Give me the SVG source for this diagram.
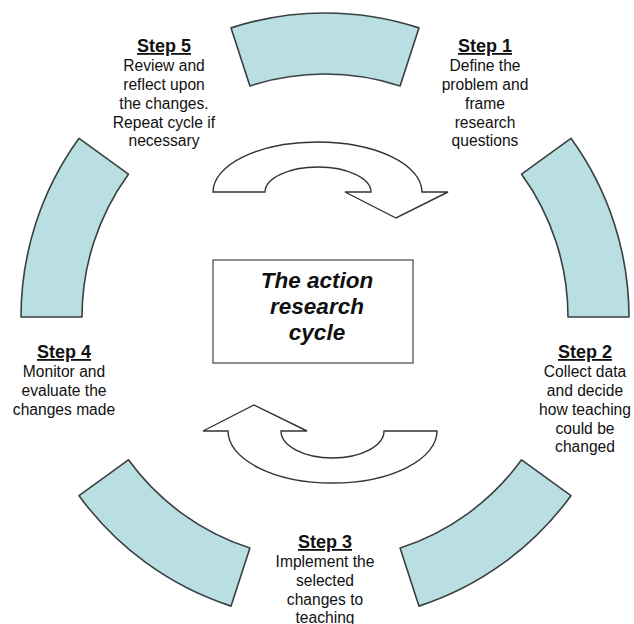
<svg xmlns="http://www.w3.org/2000/svg" width="634" height="624" viewBox="0 0 634 624">
<style>
.seg{fill:#b9dfe3;stroke:#3a3f40;stroke-width:1.6;stroke-linejoin:round}
.arr{fill:#ffffff;stroke:#333;stroke-width:1.4;stroke-linejoin:miter}
.box{fill:#ffffff;stroke:#444;stroke-width:1.2}
.h{font-family:"Liberation Sans",Arial,sans-serif;font-size:18px;font-weight:bold;text-decoration:underline;fill:#111;text-anchor:middle}
.b{font-family:"Liberation Sans",Arial,sans-serif;font-size:15.6px;fill:#111;text-anchor:middle}
.c{font-family:"Liberation Sans",Arial,sans-serif;font-size:22.5px;font-weight:bold;font-style:italic;fill:#111;text-anchor:middle}
</style>
<rect width="634" height="624" fill="#ffffff"/>
<g id="ring">
<path id="seg-top" class="seg" d="M231.06,27.88 A304,304 0 0 1 418.94,27.88 L400.09,85.89 A243,243 0 0 0 249.91,85.89 Z"/>
<path id="seg-right" class="seg" d="M570.94,138.31 A304,304 0 0 1 629,317 L568,317 A243,243 0 0 0 521.59,174.17 Z"/>
<path id="seg-bottom-right" class="seg" d="M570.94,495.69 A304,304 0 0 1 418.94,606.12 L400.09,548.11 A243,243 0 0 0 521.59,459.83 Z"/>
<path id="seg-bottom-left" class="seg" d="M231.06,606.12 A304,304 0 0 1 79.06,495.69 L128.41,459.83 A243,243 0 0 0 249.91,548.11 Z"/>
<path id="seg-left" class="seg" d="M21,317 A304,304 0 0 1 79.06,138.31 L128.41,174.17 A243,243 0 0 0 82,317 Z"/>
</g>
<g id="connectors">
<path id="arrow-top" class="arr" d="M213,192 A104.5,50 0 0 1 422,192 L448,192 L396,218 L345,192 L371,192 A53,25 0 0 0 265,192 Z"/>
<path id="arrow-bottom" class="arr" d="M203,431 L254,405 L307,431 L281,431 A51.5,27 0 0 0 384,431 L437,431 A104.5,52 0 0 1 228,431 Z"/>
</g>
<g id="center">
<rect class="box" x="213" y="260" width="200" height="103"/>
<text class="c" x="317" y="288">The action</text>
<text class="c" x="317" y="314">research</text>
<text class="c" x="317" y="340">cycle</text>
</g>
<g id="step1">
<text class="h" x="485" y="52">Step 1</text>
<text class="b" x="485" y="71">Define the</text>
<text class="b" x="485" y="90">problem and</text>
<text class="b" x="485" y="108.5">frame</text>
<text class="b" x="485" y="127.5">research</text>
<text class="b" x="485" y="146">questions</text>
</g>
<g id="step2">
<text class="h" x="585" y="358">Step 2</text>
<text class="b" x="585" y="377">Collect data</text>
<text class="b" x="585" y="396">and decide</text>
<text class="b" x="585" y="414.5">how teaching</text>
<text class="b" x="585" y="433.5">could be</text>
<text class="b" x="585" y="452">changed</text>
</g>
<g id="step3">
<text class="h" x="325" y="548">Step 3</text>
<text class="b" x="325" y="567">Implement the</text>
<text class="b" x="325" y="586">selected</text>
<text class="b" x="325" y="604.5">changes to</text>
<text class="b" x="325" y="623">teaching</text>
</g>
<g id="step4">
<text class="h" x="64" y="358">Step 4</text>
<text class="b" x="64" y="377">Monitor and</text>
<text class="b" x="64" y="396">evaluate the</text>
<text class="b" x="64" y="414.5">changes made</text>
</g>
<g id="step5">
<text class="h" x="164" y="52">Step 5</text>
<text class="b" x="164" y="71">Review and</text>
<text class="b" x="164" y="90">reflect upon</text>
<text class="b" x="164" y="108.5">the changes.</text>
<text class="b" x="164" y="127.5">Repeat cycle if</text>
<text class="b" x="164" y="146">necessary</text>
</g>
</svg>
